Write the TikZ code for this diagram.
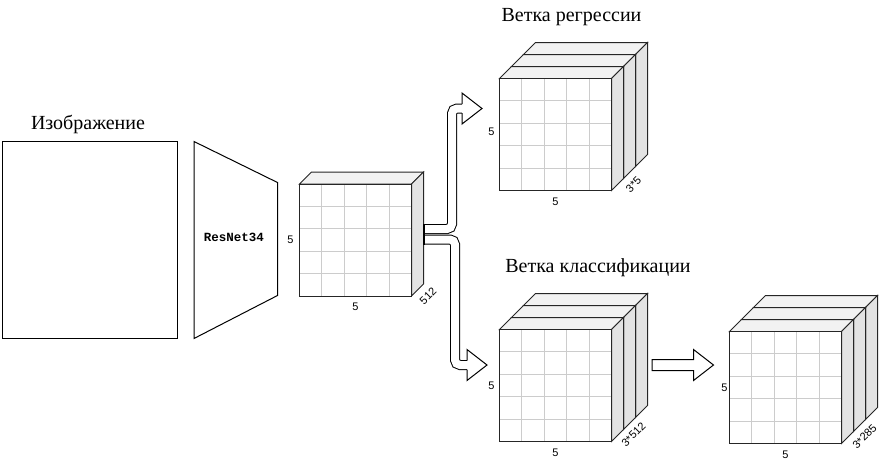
\documentclass[tikz,border=0pt]{standalone}
\usepackage{fontspec}
\setmainfont{Liberation Serif}
\newfontfamily\lsans{Liberation Sans}
\newfontfamily\lmono{Liberation Mono}
\usetikzlibrary{calc}
\definecolor{topc}{HTML}{F2F2F2}
\definecolor{sidec}{HTML}{E3E3E3}
\definecolor{gridc}{HTML}{CCCCCC}
\tikzset{
  facel/.style={draw=black!85, line width=1pt, line join=miter},
  gridl/.style={draw=gridc, line width=1pt},
  front/.style={fill=white, draw=none, minimum width=112pt, minimum height=112pt, inner sep=0pt, outer sep=0pt, anchor=north west},
  title/.style={font=\fontsize{20}{22}\selectfont, anchor=base},
  small/.style={font=\lsans\fontsize{11}{12}\selectfont, inner sep=0pt},
  flex/.style={draw=black, line width=1pt, double=white, double distance=8pt, rounded corners=5pt},
  headc/.style={draw=black, fill=white, line width=1pt, line join=miter},
}
\newcommand\cubeblock[4]{%
  \foreach \k in {#4}{%
    \pgfmathsetmacro\ox{#2+\k*12}%
    \pgfmathsetmacro\oy{#3-\k*12}%
    \draw[facel, fill=topc] (\ox,\oy) -- ++(12,-12) -- ++(112,0) -- ++(-12,12) -- cycle;
    \draw[facel, fill=sidec] (\ox+112,\oy) -- ++(12,-12) -- ++(0,112) -- ++(-12,12) -- cycle;
  }%
  \node[front] (#1) at (#2,#3) {};
  \foreach \i in {1,...,4}{%
    \draw[gridl] (#2+\i*22.4,#3) -- ++(0,112);
    \draw[gridl] (#2,#3+\i*22.4) -- ++(112,0);
  }%
  \draw[facel] (#1.north west) rectangle (#1.south east);
}
\begin{document}
\begin{tikzpicture}[x=1pt, y=-1pt, line width=1pt]
\useasboundingbox (0,0) rectangle (887,466);

% input image
\node[draw=black, line width=1pt, minimum width=175pt, minimum height=197pt, inner sep=0pt, anchor=north west] (img) at (1.5,141) {};
\node[title] (imgt) at (88,129.5) {Изображение};

% ResNet34 block
\node[font=\lmono\bfseries\fontsize{12.5}{14}\selectfont] (rn) at (234,237) {ResNet34};
\draw[line join=miter] (194,141.5) -- (277.5,182.5) -- (277.5,295.5) -- (194,338.5) -- cycle;

% cubes
\cubeblock{c1}{299.5}{184}{0}
\cubeblock{reg}{499.5}{78.5}{2,1,0}
\cubeblock{cls}{499.5}{329.5}{2,1,0}
\cubeblock{out}{729.5}{331.5}{2,1,0}

% titles
\node[title] (regt) at (571.5,21) {Ветка регрессии};
\node[title] (clst) at (598,272.5) {Ветка классификации};

% cube labels
\node[small] (c1l) at ([xshift=-9pt]c1.west) {5};
\node[small] (c1b) at ([yshift=-11pt]c1.south) {5};
\node[small, rotate=45] (c1d) at ([xshift=16.5pt,yshift=0pt]c1.south east) {512};
\node[small] (regl) at ([xshift=-8pt,yshift=3pt]reg.west) {5};
\node[small] (regb) at ([yshift=-11pt]reg.south) {5};
\node[small, rotate=45] (regd) at ([xshift=22pt,yshift=6pt]reg.south east) {3*5};
\node[small] (clsl) at ([xshift=-8pt]cls.west) {5};
\node[small] (clsb) at ([yshift=-11pt]cls.south) {5};
\node[small, rotate=45] (clsd) at ([xshift=22pt,yshift=7pt]cls.south east) {3*512};
\node[small] (outl) at ([xshift=-5pt]out.west) {5};
\node[small] (outb) at ([yshift=-11pt]out.south) {5};
\node[small, rotate=45] (outd) at ([xshift=23pt,yshift=7pt]out.south east) {3*285};

% split arrows
\coordinate (u0) at ([xshift=12.5pt,yshift=11pt]c1.east);
\coordinate (u1) at ([xshift=-17.5pt,yshift=26pt]reg.west);
\coordinate (l0) at ([xshift=12.5pt,yshift=0.5pt]c1.east);
\coordinate (l1) at ([xshift=-12.5pt,yshift=20.5pt]cls.west);
\draw[flex] (u0) -- ++(28,0) |- ($(u1)+(-20,0)$);
\draw[headc] ($(u1)+(-20,-4.5)$) -- ++(0,-11) -- (u1) -- ($(u1)+(-20,15.5)$) -- ++(0,-11);
\draw[flex] (l0) -- ++(31,0) |- ($(l1)+(-20,0)$);
\draw[headc] ($(l1)+(-20,-4.5)$) -- ++(0,-11) -- (l1) -- ($(l1)+(-20,15.5)$) -- ++(0,-11);
\draw[line width=1.6pt] ($(u0)+(0,-5)$) -- ($(l0)+(0,5)$);

% block arrow between classification cubes
\coordinate (m0) at ([xshift=40.5pt,yshift=20.5pt]cls.east);
\coordinate (m1) at ([xshift=-16pt,yshift=22.5pt]out.west);
\draw[headc] ($(m0)+(0,-5.5)$) -- ($(m1)+(-20,-5.5)$) -- ($(m1)+(-20,-15.5)$) -- (m1)
  -- ($(m1)+(-20,15.5)$) -- ($(m1)+(-20,5.5)$) -- ($(m0)+(0,5.5)$) -- cycle;
\end{tikzpicture}
\end{document}
